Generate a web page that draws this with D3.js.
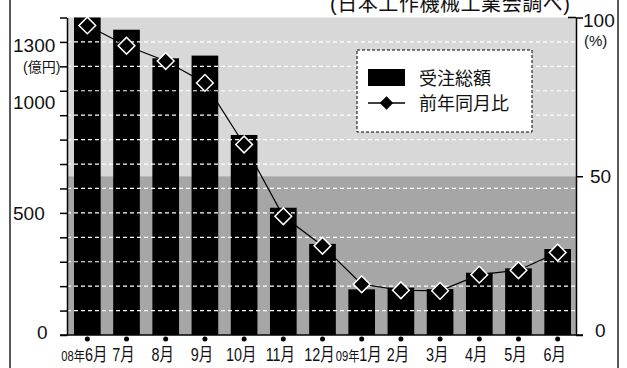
<!DOCTYPE html>
<html>
<head>
<meta charset="utf-8">
<script src="https://cdn.jsdelivr.net/npm/d3@7"></script>
<style>
  body { margin: 0; background: #fff; }
  svg text { font-family: "Liberation Sans", "Noto Sans CJK JP", sans-serif; fill: #111; }
</style>
</head>
<body>
<div id="chart"></div>
<script>
// data
const months = ['08年6月', '7月', '8月', '9月', '10月', '11月', '12月', '09年1月', '2月', '3月', '4月', '5月', '6月'];
const orders = [1300, 1250, 1133, 1144, 819, 521, 373, 187, 194, 188, 255, 273, 352]; // 受注総額 (億円)
const yoy = [97.5, 91.1, 86.3, 79.4, 60.0, 37.4, 28.1, 16.0, 14.1, 13.9, 19.0, 20.4, 26.0]; // 前年同月比 (%)
const leftTicks = [0, 500, 1000, 1300];
const rightTicks = [0, 50, 100];
const legendNames = ['受注総額', '前年同月比'];
const source = '(日本工作機械工業会調べ)';

function renderChart() {
    var width = 627,
        height = 368;
    var left = 67, right = 576, top = 17.5, bottom = 335;

    var svg = d3.select("#chart")
        .append("svg")
        .attr("width", width)
        .attr("height", height);

    // scales
    var x = d3.scaleBand()
        .domain(months)
        .range([74, 571])
        .paddingInner(0.32)
        .paddingOuter(0);
    var y = d3.scaleLinear().domain([0, 1300]).range([bottom, top]);
    var yr = d3.scaleLinear().domain([0, 100]).range([bottom, top]);

    // outer frame (only the sides show)
    svg.append("line").attr("x1", 10).attr("x2", 10).attr("y1", 0).attr("y2", height)
        .attr("stroke", "#222").attr("stroke-width", 1.5);
    svg.append("line").attr("x1", 618).attr("x2", 618).attr("y1", 0).attr("y2", height)
        .attr("stroke", "#222").attr("stroke-width", 1.5);

    // source note, cut at the top edge like the print
    svg.append("text")
        .attr("x", 330).attr("y", 11)
        .attr("textLength", 240)
        .attr("lengthAdjust", "spacing")
        .style("font-size", "20px")
        .text(source);

    // background: light above 50%, darker below
    svg.append("rect")
        .attr("x", left).attr("y", top)
        .attr("width", right - left).attr("height", yr(50) - top)
        .attr("fill", "#d8d8d8");
    svg.append("rect")
        .attr("x", left).attr("y", yr(50))
        .attr("width", right - left).attr("height", bottom - yr(50))
        .attr("fill", "#a6a6a6");

    // bars
    svg.append("g")
        .selectAll("rect")
        .data(orders)
        .join("rect")
        .attr("x", (d, i) => x(months[i]))
        .attr("y", d => y(d))
        .attr("width", x.bandwidth())
        .attr("height", d => bottom - y(d))
        .attr("fill", "#000");

    // white dashed gridlines
    svg.append("g")
        .selectAll("line")
        .data(d3.range(100, 1300, 100))
        .join("line")
        .attr("x1", left).attr("x2", right)
        .attr("y1", d => y(d)).attr("y2", d => y(d))
        .attr("stroke", "#fff")
        .attr("stroke-width", 1.2)
        .attr("stroke-dasharray", "4,3");

    // left axis
    var leftAxis = svg.append("g")
        .attr("transform", `translate(${left},0)`)
        .call(d3.axisLeft(y).tickValues(d3.range(0, 1301, 100)).tickSize(7).tickSizeOuter(0).tickFormat(""));
    leftAxis.selectAll("path, line").attr("stroke", "#000").attr("stroke-width", 1.5);

    // labels sit where the print put them
    var leftShift = { 0: 4, 500: 7, 1000: 18, 1300: 34.5 };
    svg.append("g")
        .selectAll("text")
        .data(leftTicks)
        .join("text")
        .attr("x", d => d == 0 ? 37 : 13)
        .attr("y", d => y(d) + leftShift[d])
        .style("font-size", "19px")
        .text(d => d);
    svg.append("text")
        .attr("x", 23).attr("y", 72)
        .style("font-size", "14px")
        .text("(億円)");

    // right axis
    var rightAxis = svg.append("g")
        .attr("transform", `translate(${right},0)`)
        .call(d3.axisRight(yr).tickValues(rightTicks).tickSize(7).tickSizeOuter(0).tickFormat(""));
    rightAxis.selectAll("path, line").attr("stroke", "#000").attr("stroke-width", 1.5);
    svg.append("line")
        .attr("x1", right - 8).attr("x2", right)
        .attr("y1", yr(100)).attr("y2", yr(100))
        .attr("stroke", "#000").attr("stroke-width", 1.5);

    var rightShift = { 0: 2, 50: 7, 100: 9.5 };
    svg.append("g")
        .selectAll("text")
        .data(rightTicks)
        .join("text")
        .attr("x", d => d == 100 ? 583 : (d == 50 ? 590 : 595))
        .attr("y", d => yr(d) + rightShift[d])
        .style("font-size", "19px")
        .text(d => d);
    svg.append("text")
        .attr("x", 584).attr("y", 46)
        .style("font-size", "15px")
        .text("(%)");

    // baseline
    svg.append("line")
        .attr("x1", 60).attr("x2", right + 7)
        .attr("y1", bottom).attr("y2", bottom)
        .attr("stroke", "#000").attr("stroke-width", 1.5);

    // category dots and labels
    svg.append("g")
        .selectAll("circle")
        .data(months)
        .join("circle")
        .attr("cx", d => x(d) + x.bandwidth() / 2)
        .attr("cy", bottom + 4)
        .attr("r", 2.5)
        .attr("fill", "#000");

    var labels = svg.append("g")
        .selectAll("text")
        .data(months)
        .join("text")
        .attr("transform", d => `translate(${x(d) + x.bandwidth() / 2 - 3},361) scale(0.8,1)`)
        .attr("text-anchor", "middle")
        .style("font-size", "18px");
    labels.each(function (d) {
        var m = d.match(/^(\d+年)?(.*)$/);
        var t = d3.select(this);
        if (m[1]) {
            t.append("tspan").style("font-size", "14px").text(m[1]);
        }
        t.append("tspan").text(m[2]);
    });

    // 前年同月比 line
    var lineGenerator = d3.line()
        .x((d, i) => x(months[i]) + x.bandwidth() / 2)
        .y(d => yr(d));
    svg.append("path")
        .attr("d", lineGenerator(yoy))
        .attr("fill", "none")
        .attr("stroke", "#000")
        .attr("stroke-width", 1.2);

    var diamond = d3.symbol().type(d3.symbolSquare).size(140);
    svg.append("g")
        .selectAll("path")
        .data(yoy)
        .join("path")
        .attr("d", diamond)
        .attr("transform", (d, i) => `translate(${x(months[i]) + x.bandwidth() / 2},${yr(d)}) rotate(45)`)
        .attr("fill", "#000")
        .attr("stroke", "#fff")
        .attr("stroke-width", 1.5);

    // legend
    var legend = svg.append("g");
    legend.append("rect")
        .attr("x", 357).attr("y", 50)
        .attr("width", 175).attr("height", 82)
        .attr("fill", "#fff")
        .attr("stroke", "#000")
        .attr("stroke-width", 1)
        .attr("stroke-dasharray", "3,2");
    legend.append("rect")
        .attr("x", 368).attr("y", 69)
        .attr("width", 37).attr("height", 17)
        .attr("fill", "#000");
    legend.append("line")
        .attr("x1", 368).attr("x2", 405)
        .attr("y1", 103).attr("y2", 103)
        .attr("stroke", "#000").attr("stroke-width", 1.5);
    legend.append("path")
        .attr("d", d3.symbol().type(d3.symbolSquare).size(90))
        .attr("transform", "translate(386.5,103) rotate(45)")
        .attr("fill", "#000");
    legend.selectAll("text.name")
        .data(legendNames)
        .join("text")
        .attr("class", "name")
        .attr("x", 419)
        .attr("y", (d, i) => 85 + i * 25)
        .style("font-size", "18px")
        .text(d => d);
}

document.addEventListener("DOMContentLoaded", function () {
    renderChart();
});
</script>
</body>
</html>
